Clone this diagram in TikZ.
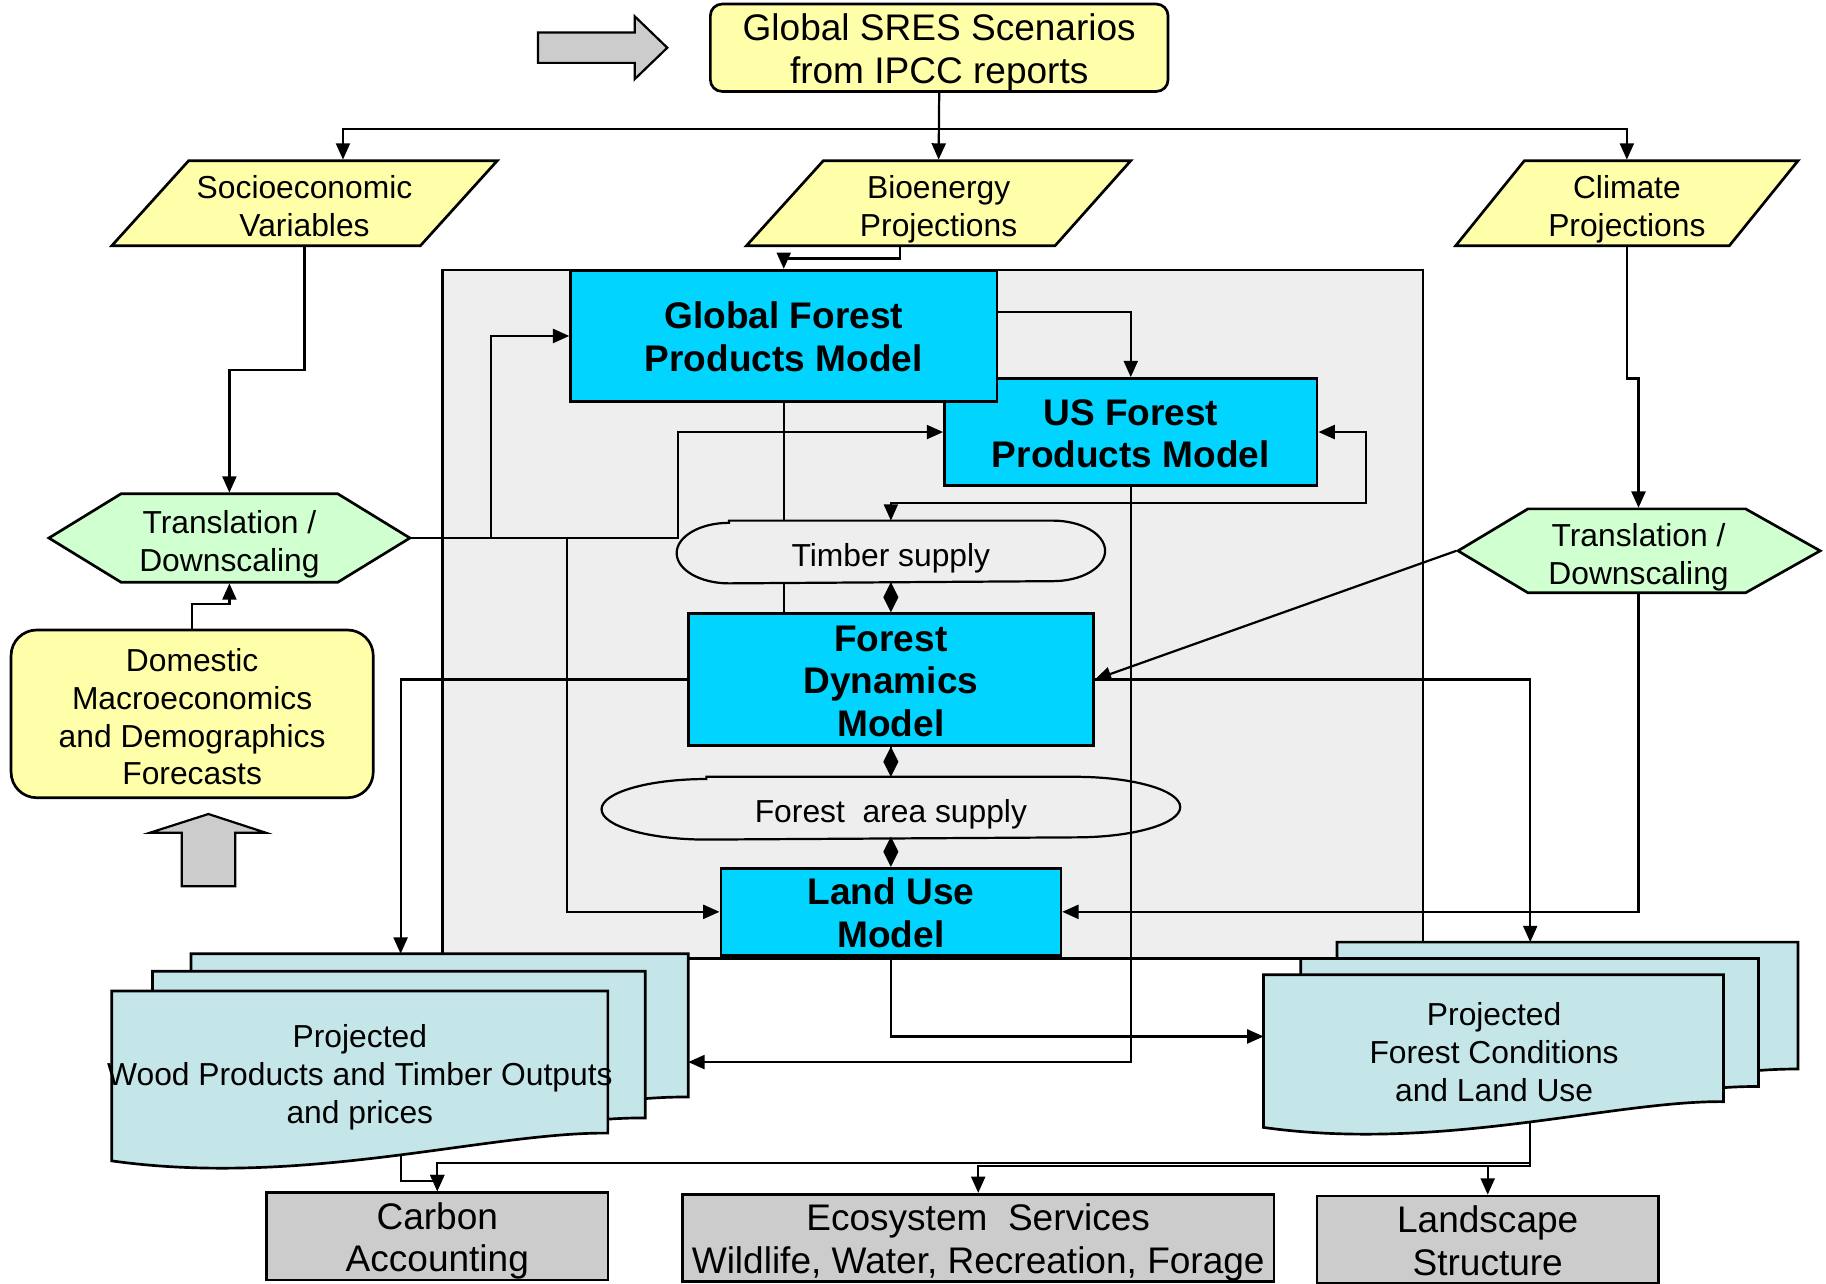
\documentclass[tikz,border=0pt]{standalone}
\usepackage{fontspec}
\setmainfont{Liberation Sans}
\usetikzlibrary{arrows.meta}

\definecolor{noteyellow}{RGB}{255,255,170}
\definecolor{hexgreen}{RGB}{208,255,208}
\definecolor{modelcyan}{RGB}{0,212,255}
\definecolor{panelgray}{RGB}{238,238,238}
\definecolor{sheetblue}{RGB}{196,230,232}
\definecolor{outgray}{RGB}{204,204,204}

\newcommand\normaltext{\fontsize{27.3}{32.5}\selectfont}
\newcommand\bigtext{\fontsize{31.8}{36.5}\selectfont}
% struts for the first and the last line of a label
\newcommand\hi{\rule{0pt}{31.5pt}}
\newcommand\lo{\rule[-7pt]{0pt}{7pt}}

% paper sheet with a wavy lower edge: left, top, right, lower right
\newcommand\docsheet[4]{%
  \draw[sheet] (#1,#2) -- (#3,#2) -- (#3,#4)
    .. controls ({#3-0.24*(#3-#1)},{#4-1}) and ({#1+0.385*(#3-#1)},{#4+0.11*(#3-#1)})
    .. (#1,{#4+0.056*(#3-#1)}) -- cycle;}

% flat oval round a node: node name, radius of the ends
\newcommand\pillshape[2]{%
  \draw[line width = 1.9pt] ([xshift=#2pt]#1.north west) -- ([xshift=-#2pt]#1.north east)
    arc[start angle=-90, end angle=90, x radius=#2, y radius=26]
    -- ([xshift=#2pt]#1.south west)
    arc[start angle=90, end angle=270, x radius=#2, y radius=26] -- cycle;}

\begin{document}
\begin{tikzpicture}
          [x = 1pt, y = -1pt, line width = 1.9pt,
           >= {Triangle[length=14pt, width=12pt]},
           couple/.style = {-{Diamond[length=26pt, width=13pt]}},
           txt/.style = {font = \normaltext, align = center, inner sep = 0pt},
           source/.style = {draw, line width = 2.3pt, fill = noteyellow, font = \normaltext, align = center, inner sep = 0pt},
           model/.style = {draw, line width = 2.3pt, fill = modelcyan, font = \bigtext\bfseries, align = center, inner sep = 0pt},
           output/.style = {draw, line width = 2.3pt, fill = outgray, font = \bigtext, align = center, inner sep = 0pt},
           sheet/.style = {draw, line width = 2.3pt, fill = sheetblue}]
          \useasboundingbox (0,0) rectangle (1568,1102);

          % big grey arrows
          \filldraw[fill = outgray] (462,28) -- (545,28) -- (545,14) -- (573,41) -- (545,68) -- (545,54) -- (462,54) -- cycle;
          \filldraw[fill = outgray] (156,761) -- (156,715) -- (129,715) -- (179,699) -- (228,715) -- (202,715) -- (202,761) -- cycle;

          % panel behind the models
          \filldraw[fill = panelgray] (380,232) rectangle (1222,823);

          % inputs
          \node[source, rounded corners = 10pt, minimum width = 393pt, minimum height = 72pt, font = \bigtext] (sres) at (806.5,41) {\hi Global SRES Scenarios\\from IPCC reports\lo};
          \filldraw[fill = noteyellow, line width = 2.3pt] (162,138) -- (427,138) -- (361,211) -- (96,211) -- cycle;
          \node[txt, minimum width = 200pt, minimum height = 73pt] (socio) at (261.5,174.5) {\hi Socioeconomic\\Variables\lo};
          \filldraw[fill = noteyellow, line width = 2.3pt] (707,138) -- (971,138) -- (906,211) -- (641,211) -- cycle;
          \node[txt, minimum width = 200pt, minimum height = 73pt] (bio) at (806,174.5) {\hi Bioenergy\\Projections\lo};
          \filldraw[fill = noteyellow, line width = 2.3pt] (1309,138) -- (1544,138) -- (1485,211) -- (1250,211) -- cycle;
          \node[txt, minimum width = 180pt, minimum height = 73pt] (climate) at (1397,174.5) {\hi Climate\\Projections\lo};
          \filldraw[fill = hexgreen, line width = 2.3pt] (42,462) -- (104,424) -- (290,424) -- (352,462) -- (290,500) -- (104,500) -- cycle;
          \node[txt, minimum width = 310pt, minimum height = 76pt] (lhex) at (197,462) {\hi Translation /\\Downscaling\lo};
          \filldraw[fill = hexgreen, line width = 2.3pt] (1252,473) -- (1312,437) -- (1499,437) -- (1563,473) -- (1499,509) -- (1312,509) -- cycle;
          \node[txt, minimum width = 311pt, minimum height = 72pt] (rhex) at (1407,473) {\hi Translation /\\Downscaling\lo};
          \node[source, rounded corners = 22pt, minimum width = 311pt, minimum height = 144pt] (domestic) at (165,613) {\hi Domestic\\Macroeconomics\\and Demographics\\Forecasts\lo};

          % models
          \node[model, minimum width = 320pt, minimum height = 92pt] (us) at (971,371) {\hi US Forest\\Products Model\lo};
          \node[model, minimum width = 366pt, minimum height = 113pt] (global) at (673,288.5) {\hi Global Forest\\Products Model\lo};
          \node[txt, minimum width = 366pt, minimum height = 52pt] (timber) at (765,474) {\hi Timber supply\lo};
          \pillshape{timber}{45}
          \node[model, minimum width = 348pt, minimum height = 113pt] (fd) at (765,583.5) {\hi Forest\\Dynamics\\Model\lo};
          \node[txt, minimum width = 495pt, minimum height = 52pt] (fas) at (765,694) {\hi Forest\ \ area supply\lo};
          \pillshape{fas}{90}
          \node[model, minimum width = 292pt, minimum height = 72pt] (lu) at (765,783) {\hi Land Use\\Model\lo};

          % projected outputs
          \docsheet{164}{819}{591}{942}
          \docsheet{131}{834}{554}{960}
          \docsheet{96}{851}{522}{973}
          \node[txt] (wood) at (309,920) {\hi Projected\\Wood Products and Timber Outputs\\and prices\lo};
          \docsheet{1148}{809}{1544}{918}
          \docsheet{1117}{823}{1510}{933}
          \docsheet{1085}{837}{1480}{946}
          \node[txt] (forcond) at (1283,901) {\hi Projected\\Forest Conditions\\and Land Use\lo};
          \coordinate (woodin) at (344,819);
          \coordinate (woodr) at (591,912);
          \coordinate (woodout) at (344,992);
          \coordinate (fcin) at (1314,809);
          \coordinate (fcl) at (1085,890);
          \coordinate (fcout) at (1314,963);

          \node[output, minimum width = 293pt, minimum height = 73pt] (carbon) at (375.5,1061.5) {\hi Carbon\\Accounting\lo};
          \node[output, minimum width = 508pt, minimum height = 70pt] (eco) at (840,1063) {\hi Ecosystem\ \ Services\\Wildlife, Water, Recreation, Forage\lo};
          \node[output, minimum width = 293pt, minimum height = 73pt] (land) at (1277.5,1064.5) {\hi Landscape\\Structure\lo};

          % connectors
          \draw[->] (sres.south) -- (bio.north);
          \draw[->] (sres.south) -- ++(0,31) -| ([xshift=33pt]socio.north);
          \draw[->] (sres.south) -- ++(0,31) -| (climate.north);
          \draw[->] ([xshift=-33.5pt]bio.south) -- ++(0,10) -| (global.north);
          \draw[->] (socio.south) -- ++(0,106) -| (lhex.north);
          \draw[->] (domestic.north) -- ++(0,-21) -| (lhex.south);
          \draw[->] (lhex.east) -- ++(69,0) |- (global.west);
          \draw[->] (lhex.east) -- ++(229,0) |- (us.west);
          \draw[->] (lhex.east) -- ++(134,0) |- (lu.west);
          \draw[->] ([yshift=20.5pt]global.east) -| (us.north);
          \draw[<->] (us.east) -- ++(41,0) -- ++(0,61) -| (timber.north);
          \draw (global.south) -- (global.south |- timber.north);
          \draw (global.south |- timber.south) -- (global.south |- fd.north);
          \draw[couple] (timber.south) -- (fd.north);
          \draw[couple] (fd.south) -- (fas.north);
          \draw[couple] (fas.south) -- (lu.north);
          \draw[->] (fd.west) -| (woodin);
          \draw[->] (fd.east) -| (fcin);
          \draw[->] (rhex.west) -- (fd.east);
          \draw[->] (climate.south) -- ++(0,113) -| (rhex.north);
          \draw[->] (rhex.south) |- (lu.east);
          \draw[->] (us.south) |- (woodr);
          \draw[->] (lu.south) |- (fcl);
          \draw[->] (woodout) -- ++(0,22) -| (carbon.north);
          \draw[->] (fcout) -- ++(0,36) -| (carbon.north);
          \draw[->] (fcout) -- ++(0,38.5) -| (eco.north);
          \draw[->] (fcout) -- ++(0,38.5) -| (land.north);
        \end{tikzpicture}
\end{document}
